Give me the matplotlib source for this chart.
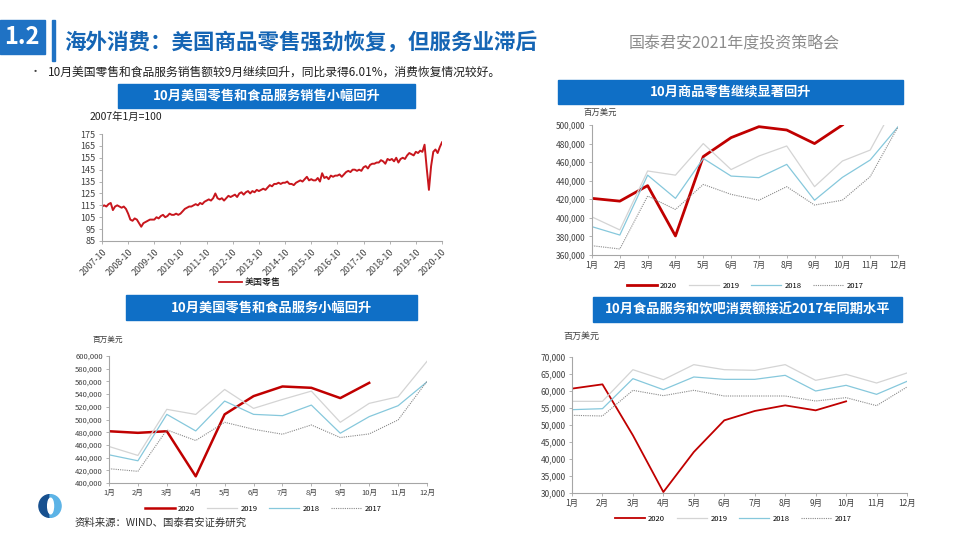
import numpy as np
import matplotlib.pyplot as plt
from matplotlib.patches import Rectangle, Wedge, Ellipse
from matplotlib.lines import Line2D
from matplotlib.ticker import FuncFormatter

plt.rcParams['font.family'] = ['Noto Sans CJK SC', 'DejaVu Sans']

# ---- data ----
# chart 1: index, 2007-10 .. 2020-10 (monthly)
idx_labels = ['2007-10', '2008-10', '2009-10', '2010-10', '2011-10', '2012-10', '2013-10',
              '2014-10', '2015-10', '2016-10', '2017-10', '2018-10', '2019-10', '2020-10']
retail_idx = [
    114, 115, 114, 116, 117, 111, 114, 115, 114, 113, 114, 112,
    108, 103, 102, 104, 103, 100, 97, 100, 101, 102, 103, 103,
    103, 105, 104, 106, 107, 105, 106, 108, 107, 107, 108, 107,
    108, 110, 112, 113, 114, 114, 115, 116, 115, 117, 116, 118,
    119, 120, 119, 121, 125, 121, 120, 121, 119, 121, 123, 122,
    123, 124, 122, 125, 126, 124, 126, 127, 125, 127, 126, 128,
    127, 128, 129, 128, 130, 132, 131, 133, 133, 134, 133, 134,
    134, 135, 133, 133, 132, 134, 135, 136, 135, 137, 139, 136,
    137, 136, 136, 138, 135, 142, 138, 139, 137, 140, 139, 140,
    140, 141, 139, 141, 143, 144, 143, 145, 145, 144, 145, 144,
    147, 148, 146, 149, 150, 150, 151, 151, 153, 152, 150, 154,
    153, 154, 152, 155, 151, 154, 155, 154, 157, 159, 158, 157,
    160, 159, 161, 160, 166, 146, 128, 148, 160, 162, 159, 164,
    168]

months = ['1月', '2月', '3月', '4月', '5月', '6月', '7月', '8月', '9月', '10月', '11月', '12月']
years = ['2020', '2019', '2018', '2017']

# chart 2: goods retail
goods_2020 = [421000, 418000, 434700, 380500, 466000, 486400, 498200, 494600, 480000, 500000]
goods_2019 = [401000, 387000, 450500, 446000, 480000, 452000, 466600, 477400, 433600, 461200, 473000, 528000]
goods_2018 = [390500, 381500, 446000, 421000, 464000, 445000, 443300, 457600, 419000, 443600, 462300, 498000]
goods_2017 = [370000, 366500, 423500, 409000, 436000, 425300, 419000, 433600, 413800, 419000, 444400, 498000]

# chart 3: retail and food services
total_2020 = [481500, 479000, 481500, 410500, 508100, 536800, 552000, 549900, 533700, 557700]
total_2019 = [457500, 443400, 516000, 508000, 547300, 517500, 531600, 544700, 495600, 525400, 535800, 591600]
total_2018 = [444400, 435000, 508100, 482000, 529000, 508100, 506000, 522700, 478400, 504500, 521700, 559300]
total_2017 = [422500, 418400, 483600, 466900, 495600, 484600, 476800, 491400, 471600, 477300, 499300, 560300]

# chart 4: food services and drinking places
food_2020 = [60700, 61960, 46960, 30290, 42060, 51370, 54120, 55780, 54310, 56960]
food_2019 = [56960, 56960, 66270, 63330, 67750, 66270, 66080, 67750, 63140, 64900, 62350, 65300]
food_2018 = [54510, 54800, 63630, 60390, 64120, 63430, 63430, 64610, 60000, 61670, 59020, 62840]
food_2017 = [52840, 52650, 60200, 58630, 60200, 58530, 58530, 58530, 57060, 58040, 55690, 61180]

W, H = 960, 540
BLUE = '#0f6fc6'
RED = '#c00000'
styles = {'2020': dict(color=RED, lw=1.8, ls='-'),
          '2019': dict(color='#d4d4d4', lw=0.9, ls='-'),
          '2018': dict(color='#86c8dc', lw=0.9, ls='-'),
          '2017': dict(color='#8a8a8a', lw=0.8, ls=(0, (1, 1)))}

fig = plt.figure(figsize=(9.6, 5.4), dpi=100)
fig.patch.set_facecolor('white')


def px(x, y):
    return x / W, 1 - y / H


def add_ax(x0, y0, x1, y1):
    return fig.add_axes([x0 / W, 1 - y1 / H, (x1 - x0) / W, (y1 - y0) / H])


def box_title(x0, y0, x1, y1, text):
    fig.patches.append(Rectangle(px(x0, y1), (x1 - x0) / W, (y1 - y0) / H,
                                 transform=fig.transFigure, color=BLUE, zorder=1))
    fig.text(*px((x0 + x1) / 2, (y0 + y1) / 2), text, color='white', fontsize=9.5,
             fontweight='bold', ha='center', va='center')


def style_ax(ax, size=6):
    for s in ['top', 'right']:
        ax.spines[s].set_visible(False)
    for s in ['left', 'bottom']:
        ax.spines[s].set_color('#a6a6a6')
        ax.spines[s].set_linewidth(0.8)
    ax.tick_params(length=2.5, width=0.6, color='#a6a6a6', labelsize=size,
                   labelcolor='#404040', pad=2)
    ax.set_facecolor('none')


# ---- header ----
fig.patches.append(Rectangle(px(0, 54), 45 / W, 34 / H, transform=fig.transFigure,
                             color='#1f72c4'))
fig.text(*px(22, 37), '1.2', color='white', fontsize=17, fontweight='bold',
         ha='center', va='center')
fig.patches.append(Rectangle(px(52, 61), 3 / W, 41 / H, transform=fig.transFigure,
                             color='#1f72c4'))
fig.text(*px(64, 42), '海外消费：美国商品零售强劲恢复，但服务业滞后', color='#1565b4',
         fontsize=15.5, fontweight='bold', ha='left', va='center')
fig.text(*px(734, 43), '国泰君安2021年度投资策略会', color='#8c8c8c', fontsize=11.5,
         ha='center', va='center')
fig.text(*px(30, 72), '•', color='#404040', fontsize=8, ha='left', va='center')
fig.text(*px(48, 72), '10月美国零售和食品服务销售额较9月继续回升，同比录得6.01%，消费恢复情况较好。',
         color='#202020', fontsize=8.5, ha='left', va='center')

# ---- chart 1 ----
box_title(118, 84, 415, 108, '10月美国零售和食品服务销售小幅回升')
ax1 = add_ax(102, 134, 442, 241)
style_ax(ax1, size=6.5)
ax1.plot(np.arange(len(retail_idx)), retail_idx, color='#c8161d', lw=1.4)
ax1.set_xlim(0, len(retail_idx) - 1)
ax1.set_ylim(85, 175)
ax1.set_yticks(np.arange(85, 176, 10))
ax1.set_xticks(np.arange(0, len(retail_idx), 12))
ax1.set_xticklabels(idx_labels, rotation=45, ha='right', rotation_mode='anchor')
fig.text(*px(90, 117), '2007年1月=100', fontsize=7.5, color='#202020', va='center')
ax1.legend([Line2D([], [], color='#c8161d', lw=1.3)], ['美国零售'], loc='center',
           bbox_to_anchor=px(250, 283), bbox_transform=fig.transFigure, frameon=False,
           fontsize=6.5, handlelength=2.5, handletextpad=0.3)


def month_chart(ax, series, ymin, ymax, step, legend_xy, size=6, red_lw=1.8):
    style_ax(ax, size=size)
    for yr, vals in zip(years, series):
        st = dict(styles[yr])
        if yr == '2020':
            st['lw'] = red_lw
        ax.plot(np.arange(len(vals)), vals, label=yr, **st)
    ax.set_xlim(0, 11)
    ax.set_ylim(ymin, ymax)
    ax.set_yticks(np.arange(ymin, ymax + 1, step))
    ax.yaxis.set_major_formatter(FuncFormatter(lambda v, p: f'{int(v):,}'))
    ax.set_xticks(np.arange(12))
    ax.set_xticklabels(months)
    ax.legend(loc='center', bbox_to_anchor=px(*legend_xy), bbox_transform=fig.transFigure,
              ncol=4, frameon=False, fontsize=5.5, handlelength=4, columnspacing=1.5,
              handletextpad=0.4)


# ---- chart 2 ----
box_title(558, 80, 903, 104, '10月商品零售继续显著回升')
ax2 = add_ax(592, 125, 898, 255)
month_chart(ax2, [goods_2020, goods_2019, goods_2018, goods_2017],
            360000, 500000, 20000, (745, 286), size=6, red_lw=2.0)
fig.text(*px(583, 112), '百万美元', fontsize=6, color='#404040', va='center')

# ---- chart 3 ----
box_title(126, 295, 417, 320, '10月美国零售和食品服务小幅回升')
ax3 = add_ax(109, 356, 427, 483)
month_chart(ax3, [total_2020, total_2019, total_2018, total_2017],
            400000, 600000, 20000, (263, 509), size=5.5, red_lw=1.8)
fig.text(*px(93, 340), '百万美元', fontsize=5.5, color='#404040', va='center')

# ---- chart 4 ----
box_title(593, 297, 902, 322, '10月食品服务和饮吧消费额接近2017年同期水平')
ax4 = add_ax(572, 357, 907, 493)
month_chart(ax4, [food_2020, food_2019, food_2018, food_2017],
            30000, 70000, 5000, (733, 519), size=6, red_lw=1.3)
fig.text(*px(563, 336), '百万美元', fontsize=6.5, color='#404040', va='center')

# ---- logo + source ----
lg = fig.add_axes([36 / W, 1 - 518 / H, 28 / W, 24 / H])
lg.set_xlim(-1.2, 1.2)
lg.set_ylim(-1, 1)
lg.axis('off')
lg.add_patch(Wedge((0, 0), 0.95, 90, 270, color='#17508f'))
lg.add_patch(Wedge((0, 0), 0.95, -90, 90, color='#5cb3e6'))
lg.add_patch(Ellipse((0.05, 0), 0.5, 1.3, color='white'))
fig.text(*px(75, 523), '资料来源：WIND、国泰君安证券研究', fontsize=7.5, color='#303030',
         va='center')

fig.savefig('out.png', dpi=100)
